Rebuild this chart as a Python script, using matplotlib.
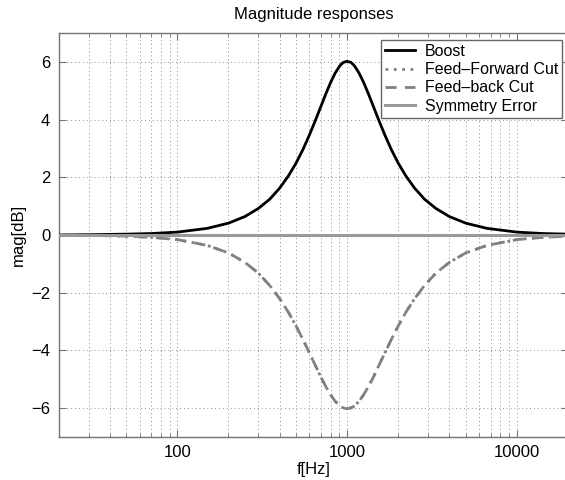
import matplotlib
matplotlib.use("Agg")
import matplotlib.pyplot as plt
from matplotlib.ticker import LogLocator, NullFormatter, FixedLocator

plt.rcParams['font.family'] = ['Liberation Sans', 'DejaVu Sans']

freq_hz = [20, 30, 50, 70, 100, 150, 200, 250, 300, 350, 400, 450, 500, 550, 600,
           650, 700, 750, 800, 850, 900, 925, 950, 1000, 1053, 1081, 1111, 1176,
           1250, 1333, 1429, 1538, 1667, 1818, 2000, 2222, 2500, 2857, 3333, 4000,
           5000, 6667, 10000, 14286, 20000]
boost_db = [0.00, 0.01, 0.03, 0.05, 0.10, 0.23, 0.41, 0.64, 0.92, 1.24, 1.62, 2.04,
            2.49, 2.97, 3.47, 3.97, 4.45, 4.90, 5.29, 5.61, 5.84, 5.92, 5.98, 6.02,
            5.98, 5.92, 5.84, 5.61, 5.29, 4.90, 4.45, 3.97, 3.47, 2.97, 2.49, 2.04,
            1.62, 1.24, 0.92, 0.64, 0.41, 0.23, 0.10, 0.05, 0.03]
ff_cut_db = [-0.01, -0.01, -0.04, -0.08, -0.16, -0.36, -0.62, -0.95, -1.32, -1.75,
             -2.20, -2.67, -3.15, -3.63, -4.09, -4.52, -4.92, -5.26, -5.54, -5.76,
             -5.91, -5.96, -5.99, -6.02, -5.99, -5.96, -5.91, -5.76, -5.54, -5.26,
             -4.92, -4.52, -4.09, -3.63, -3.15, -2.67, -2.20, -1.75, -1.32, -0.95,
             -0.62, -0.36, -0.16, -0.08, -0.04]
fb_cut_db = [-0.01, -0.01, -0.04, -0.08, -0.16, -0.36, -0.62, -0.95, -1.32, -1.75,
             -2.20, -2.67, -3.15, -3.63, -4.09, -4.52, -4.92, -5.26, -5.54, -5.76,
             -5.91, -5.96, -5.99, -6.02, -5.99, -5.96, -5.91, -5.76, -5.54, -5.26,
             -4.92, -4.52, -4.09, -3.63, -3.15, -2.67, -2.20, -1.75, -1.32, -0.95,
             -0.62, -0.36, -0.16, -0.08, -0.04]
sym_err_db = [0.0] * len(freq_hz)

x_ticks = [100, 1000, 10000]
x_tick_labels = ["100", "1000", "10000"]
y_ticks = [-6, -4, -2, 0, 2, 4, 6]
y_tick_labels = ["\u22126", "\u22124", "\u22122", "0", "2", "4", "6"]
series_labels = ["Boost", "Feed\u2013Forward Cut", "Feed\u2013back Cut", "Symmetry Error"]

fig = plt.figure(figsize=(5.65, 4.80), dpi=100)
ax = fig.add_axes([58.7 / 565, 43 / 480, (568 - 58.7) / 565, (437 - 33) / 480])

ax.plot(freq_hz, boost_db, color='black', lw=2.0, label=series_labels[0], zorder=4)
ax.plot(freq_hz, ff_cut_db, color=(0.5, 0.5, 0.5), lw=2.0, linestyle=(0, (1, 2)),
        label=series_labels[1], zorder=3)
ax.plot(freq_hz, fb_cut_db, color=(0.5, 0.5, 0.5), lw=2.0, linestyle=(0, (4, 3)),
        label=series_labels[2], zorder=3)
ax.plot(freq_hz, sym_err_db, color=(0.6, 0.6, 0.6), lw=2.2, label=series_labels[3], zorder=5)

ax.set_xscale('log')
ax.set_xlim(20, 20000)
ax.set_ylim(-7, 7)
ax.xaxis.set_major_locator(FixedLocator(x_ticks))
ax.set_xticklabels(x_tick_labels)
ax.xaxis.set_minor_locator(LogLocator(base=10, subs=range(2, 10), numticks=20))
ax.xaxis.set_minor_formatter(NullFormatter())
ax.set_yticks(y_ticks)
ax.set_yticklabels(y_tick_labels)

grid_kw = dict(color=(0.55, 0.55, 0.55), linestyle=(0, (1, 3)), linewidth=0.7)
ax.grid(True, which='major', axis='both', **grid_kw)
ax.grid(True, which='minor', axis='x', **grid_kw)
ax.set_axisbelow(True)

for s in ax.spines.values():
    s.set_color((0.45, 0.45, 0.45))
    s.set_linewidth(1.0)
ax.tick_params(which='both', direction='in', top=True, right=True, color=(0.45, 0.45, 0.45),
               labelsize=12, pad=6)
ax.tick_params(which='major', length=5)
ax.tick_params(which='minor', length=3)

ax.set_title("Magnitude responses", fontsize=12, pad=10)
ax.set_xlabel("f[Hz]", fontsize=12, labelpad=1)
ax.set_ylabel("mag[dB]", fontsize=12, labelpad=4)

leg = ax.legend(loc='upper right', bbox_to_anchor=(562 / 565, 1 - 40 / 480),
                bbox_transform=fig.transFigure, borderaxespad=0, fontsize=11.5,
                frameon=True, fancybox=False, framealpha=1, edgecolor=(0.4, 0.4, 0.4),
                handlelength=1.9, labelspacing=0.2, borderpad=0.25, handletextpad=0.6)
leg.get_frame().set_linewidth(1.0)

fig.savefig("out.png", dpi=100)
